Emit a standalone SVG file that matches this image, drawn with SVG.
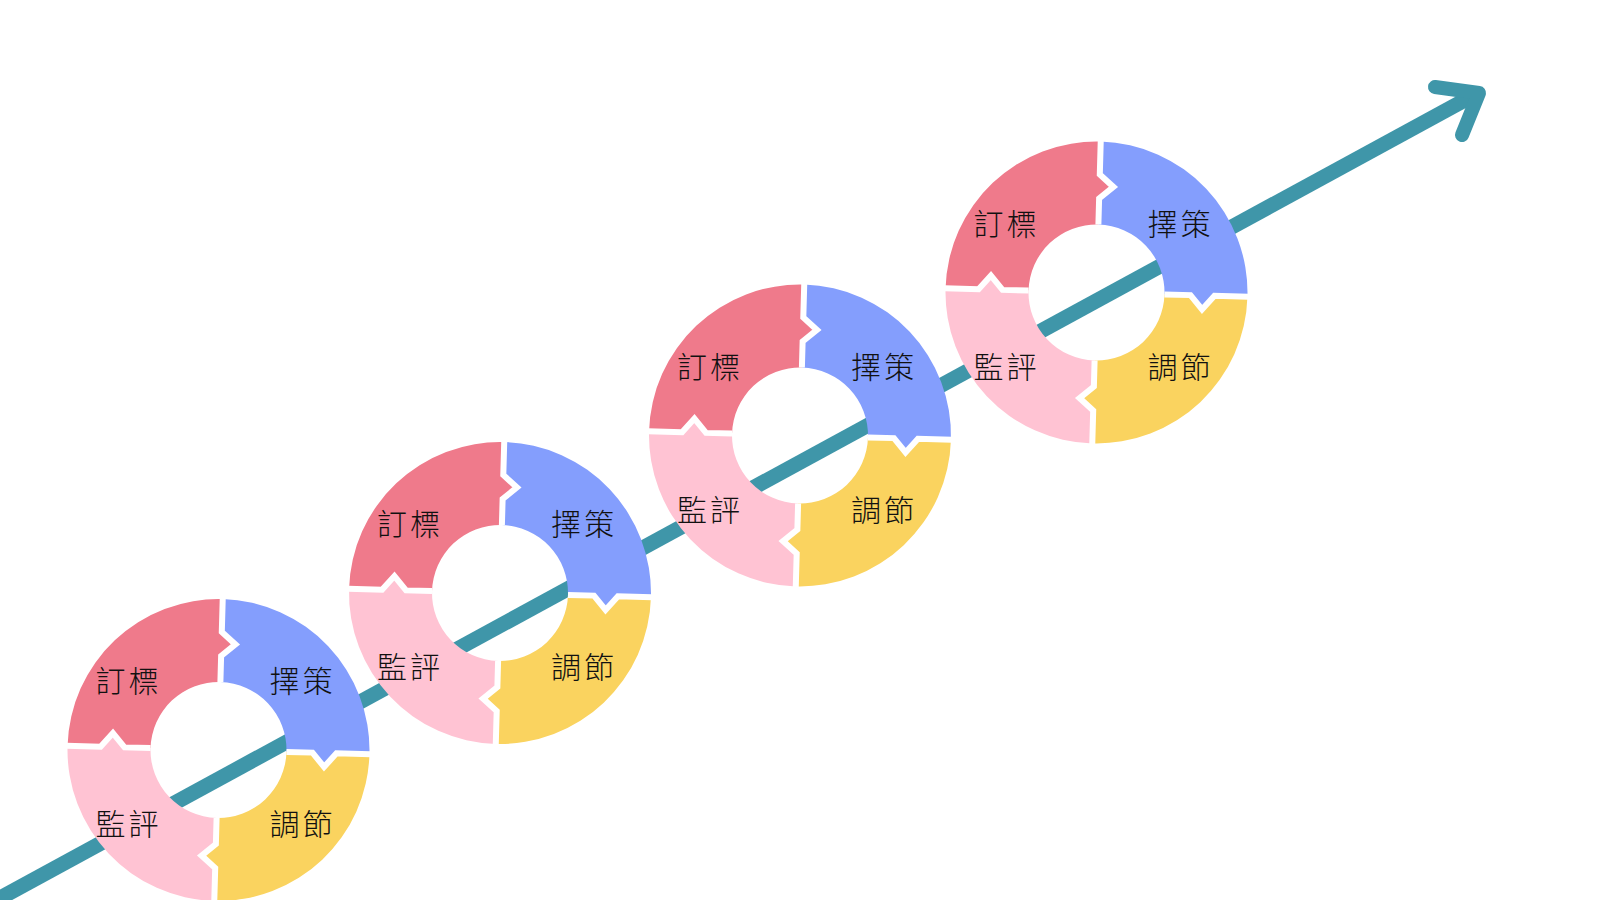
<svg xmlns="http://www.w3.org/2000/svg" xmlns:xlink="http://www.w3.org/1999/xlink" width="1600" height="900" viewBox="0 0 1600 900">
  <style>
    .goal { fill: #EF7A8B; }
    .plan { fill: #849EFD; }
    .adjust { fill: #FAD35F; }
    .monitor { fill: #FFC3D3; }
    .gap { fill: none; stroke: #FFFFFF; stroke-width: 6; stroke-linejoin: miter; }
    .lbl { font-family: "Noto Sans CJK TC", "Noto Sans CJK SC", sans-serif; font-size: 30px; font-weight: 300; fill: #111111; text-anchor: middle; letter-spacing: 3px; }
    .axis { fill: none; stroke: #3F96A9; stroke-width: 15; }
    .head { fill: none; stroke: #3F96A9; stroke-width: 14; stroke-linecap: round; stroke-linejoin: round; }
  </style>
  <defs>
    <path id="seg-goal" d="M -151,0 A 151 151 0 0 1 0,-151 L 0,-118 L 14,-106 L 0,-94 L 0,-68 A 68 68 0 0 0 -68,0 L -94,0 L -106,-14 L -118,0 Z"/>
    <path id="seg-plan" d="M 0,-151 A 151 151 0 0 1 151,0 L 118,0 L 106,14 L 94,0 L 68,0 A 68 68 0 0 0 0,-68 L 0,-94 L 14,-106 L 0,-118 Z"/>
    <path id="seg-adjust" d="M 151,0 A 151 151 0 0 1 0,151 L 0,118 L -14,106 L 0,94 L 0,68 A 68 68 0 0 0 68,0 L 94,0 L 106,14 L 118,0 Z"/>
    <path id="seg-monitor" d="M 0,151 A 151 151 0 0 1 -151,0 L -118,0 L -106,-14 L -94,0 L -68,0 A 68 68 0 0 0 0,68 L 0,94 L -14,106 L 0,118 Z"/>
    <g id="gaps">
      <path class="gap" d="M 0,-152 L 0,-118 L 14,-106 L 0,-94 L 0,-68"/>
      <path class="gap" d="M 152,0 L 118,0 L 106,14 L 94,0 L 68,0"/>
      <path class="gap" d="M 0,152 L 0,118 L -14,106 L 0,94 L 0,68"/>
      <path class="gap" d="M -152,0 L -118,0 L -106,-14 L -94,0 L -68,0"/>
    </g>
  </defs>

  <rect x="0" y="0" width="1600" height="900" fill="#FFFFFF"/>

  <g id="connectors">
    <line class="axis" x1="-20" y1="909" x2="1476" y2="94"/>
    <polyline class="head" points="1435,87 1479,93 1462,135"/>
  </g>

  <g id="cycle-1" transform="translate(218.5,750)">
    <g id="c1-goal"><use xlink:href="#seg-goal" class="goal" transform="rotate(1.6)"/><text class="lbl" x="-90" y="-58">訂標</text></g>
    <g id="c1-plan"><use xlink:href="#seg-plan" class="plan" transform="rotate(1.6)"/><text class="lbl" x="84" y="-58">擇策</text></g>
    <g id="c1-adjust"><use xlink:href="#seg-adjust" class="adjust" transform="rotate(1.6)"/><text class="lbl" x="84" y="85">調節</text></g>
    <g id="c1-monitor"><use xlink:href="#seg-monitor" class="monitor" transform="rotate(1.6)"/><text class="lbl" x="-90" y="85">監評</text></g>
    <use xlink:href="#gaps" transform="rotate(1.6)"/>
  </g>

  <g id="cycle-2" transform="translate(500,593)">
    <g id="c2-goal"><use xlink:href="#seg-goal" class="goal" transform="rotate(1.6)"/><text class="lbl" x="-90" y="-58">訂標</text></g>
    <g id="c2-plan"><use xlink:href="#seg-plan" class="plan" transform="rotate(1.6)"/><text class="lbl" x="84" y="-58">擇策</text></g>
    <g id="c2-adjust"><use xlink:href="#seg-adjust" class="adjust" transform="rotate(1.6)"/><text class="lbl" x="84" y="85">調節</text></g>
    <g id="c2-monitor"><use xlink:href="#seg-monitor" class="monitor" transform="rotate(1.6)"/><text class="lbl" x="-90" y="85">監評</text></g>
    <use xlink:href="#gaps" transform="rotate(1.6)"/>
  </g>

  <g id="cycle-3" transform="translate(800,435.5)">
    <g id="c3-goal"><use xlink:href="#seg-goal" class="goal" transform="rotate(1.6)"/><text class="lbl" x="-90" y="-58">訂標</text></g>
    <g id="c3-plan"><use xlink:href="#seg-plan" class="plan" transform="rotate(1.6)"/><text class="lbl" x="84" y="-58">擇策</text></g>
    <g id="c3-adjust"><use xlink:href="#seg-adjust" class="adjust" transform="rotate(1.6)"/><text class="lbl" x="84" y="85">調節</text></g>
    <g id="c3-monitor"><use xlink:href="#seg-monitor" class="monitor" transform="rotate(1.6)"/><text class="lbl" x="-90" y="85">監評</text></g>
    <use xlink:href="#gaps" transform="rotate(1.6)"/>
  </g>

  <g id="cycle-4" transform="translate(1096.5,292.5)">
    <g id="c4-goal"><use xlink:href="#seg-goal" class="goal" transform="rotate(1.6)"/><text class="lbl" x="-90" y="-58">訂標</text></g>
    <g id="c4-plan"><use xlink:href="#seg-plan" class="plan" transform="rotate(1.6)"/><text class="lbl" x="84" y="-58">擇策</text></g>
    <g id="c4-adjust"><use xlink:href="#seg-adjust" class="adjust" transform="rotate(1.6)"/><text class="lbl" x="84" y="85">調節</text></g>
    <g id="c4-monitor"><use xlink:href="#seg-monitor" class="monitor" transform="rotate(1.6)"/><text class="lbl" x="-90" y="85">監評</text></g>
    <use xlink:href="#gaps" transform="rotate(1.6)"/>
  </g>
</svg>
